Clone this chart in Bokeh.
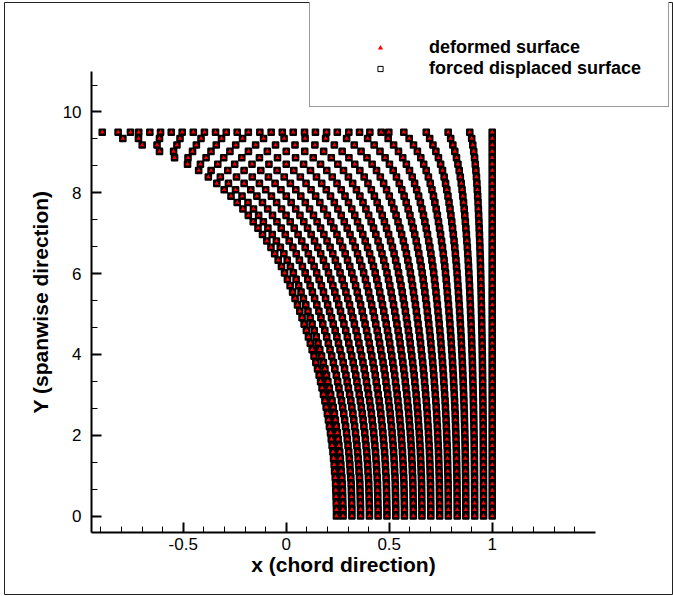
from bokeh.plotting import figure
from bokeh.models import LinearAxis, Legend, LegendItem, FixedTicker, ColumnDataSource
from bokeh.embed import file_html
from bokeh.resources import INLINE

# ---- data ----
# chordwise stations at the root (y = 0)
root_x = [0.244, 0.276, 0.319, 0.361, 0.404, 0.446, 0.489, 0.532, 0.574, 0.617,
          0.659, 0.702, 0.745, 0.787, 0.830, 0.872, 0.915, 0.958, 1.0]
# spanwise stations
span_y = [0, 0.158, 0.317, 0.475, 0.633, 0.792, 0.95, 1.108, 1.267, 1.425,
          1.583, 1.742, 1.9, 2.058, 2.217, 2.375, 2.533, 2.692, 2.85, 3.008,
          3.167, 3.325, 3.483, 3.642, 3.8, 3.958, 4.117, 4.275, 4.433, 4.592,
          4.75, 4.908, 5.067, 5.225, 5.383, 5.542, 5.7, 5.858, 6.017, 6.175,
          6.333, 6.492, 6.65, 6.808, 6.967, 7.125, 7.283, 7.442, 7.6, 7.758,
          7.917, 8.075, 8.233, 8.392, 8.55, 8.708, 8.867, 9.025, 9.183, 9.342,
          9.5]
# x of the leading (leftmost) curve at each spanwise station below the tip
le_x = [0.244, 0.244, 0.243, 0.242, 0.241, 0.240, 0.238, 0.235, 0.233, 0.230,
        0.227, 0.223, 0.219, 0.215, 0.210, 0.205, 0.200, 0.194, 0.188, 0.181,
        0.174, 0.167, 0.160, 0.152, 0.144, 0.135, 0.126, 0.117, 0.108, 0.098,
        0.087, 0.077, 0.066, 0.055, 0.043, 0.031, 0.019, 0.006, -0.008, -0.023,
        -0.039, -0.056, -0.074, -0.094, -0.115, -0.137, -0.160, -0.184, -0.210, -0.238,
        -0.268, -0.301, -0.337, -0.378, -0.425, -0.479, -0.542, -0.615, -0.699, -0.793]
# points on the tip row (y = 9.5)
tip_x = [-0.893, -0.816, -0.756, -0.716, -0.662, -0.610, -0.558, -0.505, -0.451, -0.397,
         -0.343, -0.291, -0.238, -0.184, -0.128, -0.073, -0.019, 0.034, 0.089, 0.142,
         0.196, 0.248, 0.304, 0.356, 0.406, 0.461, 0.498, 0.571, 0.680, 0.786,
         0.891, 1.0]

x_ticks = [-0.5, 0, 0.5, 1]
x_tick_labels = ["-0.5", "0", "0.5", "1"]
y_ticks = [0, 2, 4, 6, 8, 10]
y_tick_labels = ["0", "2", "4", "6", "8", "10"]
x_minor = [-0.9, -0.8, -0.7, -0.6, -0.4, -0.3, -0.2, -0.1, 0.1, 0.2, 0.3, 0.4,
           0.6, 0.7, 0.8, 0.9, 1.1, 1.2, 1.3, 1.4]
y_minor = [0.667, 1.333, 2.667, 3.333, 4.667, 5.333, 6.667, 7.333, 8.667, 9.333, 10.667]

# ---- build mesh points ----
xs, ys = [], []
for i, y in enumerate(span_y[:-1]):
    s = (1 - le_x[i]) / (1 - root_x[0])
    for r in root_x:
        xs.append(1 - (1 - r) * s)
        ys.append(y)
for x in tip_x:
    xs.append(x)
    ys.append(span_y[-1])
src = ColumnDataSource(dict(x=xs, y=ys))

p = figure(width=673, height=596, output_backend="svg", toolbar_location=None,
           x_range=(-1.3675, 1.8752), y_range=(-1.943, 12.710),
           x_axis_type=None, y_axis_type=None,
           min_border_left=4, min_border_right=1, min_border_top=2, min_border_bottom=2)
p.outline_line_color = "#222222"
p.outline_line_width = 1
p.background_fill_color = "white"
p.border_fill_color = "white"

FONT = "Liberation Sans"

def style(ax):
    ax.axis_line_width = 2
    ax.axis_line_color = "black"
    ax.major_tick_line_width = 2
    ax.major_tick_in = 10
    ax.major_tick_out = 0
    ax.minor_tick_in = 6
    ax.minor_tick_out = 0
    ax.minor_tick_line_width = 1
    ax.major_label_text_font = FONT
    ax.major_label_text_font_size = "17px"
    ax.major_label_text_color = "black"
    ax.axis_label_text_font = FONT
    ax.axis_label_text_font_size = "21px"
    ax.axis_label_text_font_style = "bold"
    ax.axis_label_text_color = "black"

xaxis = LinearAxis(fixed_location=-0.41, bounds=(-0.945, 1.499),
                   ticker=FixedTicker(ticks=x_ticks, minor_ticks=x_minor),
                   axis_label="x (chord direction)")
xaxis.major_label_overrides = dict(zip(x_ticks, x_tick_labels))
style(xaxis)
xaxis.major_label_standoff = 5
xaxis.axis_label_standoff = 0
p.add_layout(xaxis, "below")

yaxis = LinearAxis(fixed_location=-0.945, bounds=(-0.41, 11),
                   ticker=FixedTicker(ticks=y_ticks, minor_ticks=y_minor),
                   axis_label="Y (spanwise direction)")
yaxis.major_label_overrides = dict(zip(y_ticks, y_tick_labels))
style(yaxis)
yaxis.major_label_standoff = 10
yaxis.axis_label_standoff = 8
p.add_layout(yaxis, "left")

# legend symbols (styled as in the reference legend); drawn first, hidden under the mesh markers
key_src = ColumnDataSource(dict(x=xs[:1], y=ys[:1]))
tri_key = p.scatter("x", "y", source=key_src, marker="triangle", size=4,
                    fill_color="#ff0000", line_color=None)
sq_key = p.scatter("x", "y", source=key_src, marker="square", size=4,
                   fill_color="white", line_color="black", line_width=1)

# plotted points: forced displaced surface (squares) under deformed surface (triangles)
sq = p.scatter("x", "y", source=src, marker="square", size=6, line_color="black",
               line_width=1.6, fill_color="black")
tri = p.scatter("x", "y", source=src, marker="triangle", size=4.5, fill_color="#ff0000",
                line_color=None)

legend = Legend(items=[LegendItem(label="deformed surface", renderers=[tri_key]),
                       LegendItem(label="forced displaced surface", renderers=[sq_key])],
                location=(305, 487), orientation="vertical", padding=27, spacing=0, margin=0,
                glyph_width=86, glyph_height=13, label_standoff=6, label_height=20,
                label_text_font=FONT, label_text_font_style="bold", label_text_font_size="18px",
                label_text_color="black",
                border_line_color="#333333", border_line_width=1,
                background_fill_color="white", background_fill_alpha=1.0,
                title=" ", title_text_font_size="7px", title_standoff=2)
p.add_layout(legend, "center")

open("out.html", "w").write(file_html(p, INLINE))
